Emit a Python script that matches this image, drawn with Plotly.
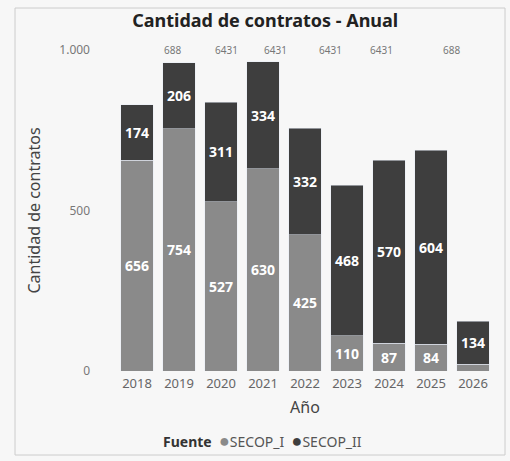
import plotly.graph_objects as go

years = ["2018", "2019", "2020", "2021", "2022", "2023", "2024", "2025", "2026"]
secop_i = [656, 754, 527, 630, 425, 110, 87, 84, 21]
secop_ii = [174, 206, 311, 334, 332, 468, 570, 604, 134]
secop_i_labels = ["656", "754", "527", "630", "425", "110", "87", "84", ""]
series_names = ["SECOP_I", "SECOP_II"]
top_noise = ["688", "6431", "6431", "6431", "6431", "688"]
top_noise_x = [162, 213, 275, 330, 395, 462]

c1 = "#8a8a8a"
c2 = "#3e3e3e"
font = "Noto Sans"

fig = go.Figure()
fig.add_trace(go.Bar(x=years, y=secop_i, name=series_names[0], marker_color=c1,
                     text=secop_i_labels, textposition="inside", insidetextanchor="middle",
                     textfont=dict(color="white", size=14, family=font, weight="bold"),
                     showlegend=False))
fig.add_trace(go.Bar(x=years, y=secop_ii, name=series_names[1], marker_color=c2,
                     text=[str(v) for v in secop_ii], textposition="inside", insidetextanchor="middle",
                     textfont=dict(color="white", size=14, family=font, weight="bold"),
                     showlegend=False))

W, H = 510, 461
L, R, T, B = 116, 16, 50, 90
pw, ph = W - L - R, H - T - B
for t, px in zip(top_noise, top_noise_x):
    fig.add_annotation(text=t, x=(px - L) / pw, y=1.0, xref="paper", yref="paper",
                       yanchor="middle", showarrow=False,
                       font=dict(size=10, color="#777777", family=font))

legend_text = ("<span style='color:#333333;font-weight:bold'>Fuente</span>  "
               f"<span style='color:{c1};font-size:18px'>●</span>{series_names[0]}  "
               f"<span style='color:{c2};font-size:18px'>●</span>{series_names[1]}")
fig.add_annotation(text=legend_text, x=(262 - L) / pw, y=(H - B - 440) / ph,
                   xref="paper", yref="paper", xanchor="center", yanchor="middle",
                   showarrow=False, font=dict(size=14, color="#555555", family=font))

fig.add_shape(type="rect", xref="paper", yref="paper",
              x0=(15 - L) / pw, x1=(505 - L) / pw,
              y0=(H - B - 455) / ph, y1=(H - B - 8) / ph,
              line=dict(color="#cccccc", width=1))

fig.update_layout(
    width=W, height=H, barmode="stack", bargap=0.22,
    separators=",.", showlegend=False,
    margin=dict(l=L, r=R, t=T, b=B),
    paper_bgcolor="#f7f7f7", plot_bgcolor="#f7f7f7",
    font=dict(family=font, color="#555555"),
    title=dict(text="<b>Cantidad de contratos - Anual</b>", x=0.52, xanchor="center",
               y=1 - 21 / H, yanchor="middle", font=dict(size=18, color="#222222", family=font)),
    xaxis=dict(title=dict(text="Año", font=dict(size=16, color="#444444"), standoff=10),
               tickfont=dict(size=13, color="#666666"), showgrid=False, showline=False,
               ticklabelstandoff=3, automargin=False),
    yaxis=dict(title=dict(text="Cantidad de contratos", font=dict(size=16, color="#444444"), standoff=14),
               range=[0, 1000], tickvals=[0, 500, 1000], tickformat=",d",
               ticklabelstandoff=25, automargin=False,
               tickfont=dict(size=12, color="#777777"), showgrid=False, zeroline=False),
    uniformtext=dict(minsize=9, mode="show"),
)
fig.write_html("out.html", post_script="document.body.style.margin='0';",
               config={"displayModeBar": False})
